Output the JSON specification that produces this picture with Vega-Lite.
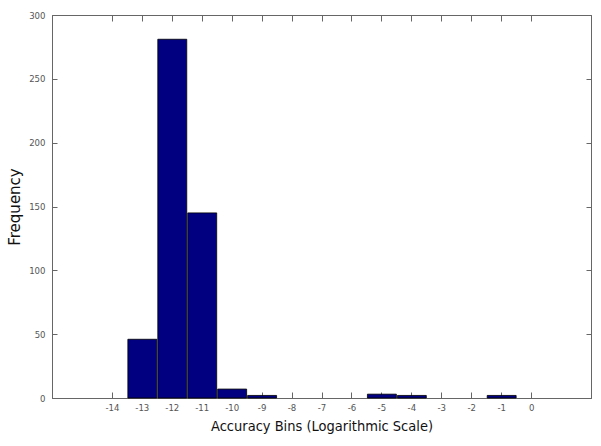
{
  "$schema": "https://vega.github.io/schema/vega-lite/v6.json",
  "width": 539,
  "height": 383,
  "autosize": {"type": "none"},
  "padding": {"left": 52, "top": 15, "right": 10, "bottom": 48},
  "background": "white",
  "config": {
    "view": {"stroke": "#666", "strokeWidth": 1},
    "axis": {"grid": false, "domainColor": "#666", "tickColor": "#666", "labelColor": "#555", "labelFont": "DejaVu Sans Condensed, Roboto, sans-serif", "labelFontSize": 9.5}
  },
  "data": {
    "values": [
      {"lo": -13.5, "hi": -12.5, "count": 46},
      {"lo": -12.5, "hi": -11.5, "count": 281},
      {"lo": -11.5, "hi": -10.5, "count": 145},
      {"lo": -10.5, "hi": -9.5, "count": 7},
      {"lo": -9.5, "hi": -8.5, "count": 2},
      {"lo": -5.5, "hi": -4.5, "count": 3},
      {"lo": -4.5, "hi": -3.5, "count": 2},
      {"lo": -1.5, "hi": -0.5, "count": 2}
    ]
  },
  "layer": [
    {
      "mark": {"type": "bar", "fill": "#000080", "stroke": "#000", "strokeWidth": 0.8},
      "encoding": {
        "x": {"field": "lo", "type": "quantitative", "bin": {"binned": true},
          "scale": {"domain": [-16, 2], "nice": false, "zero": false},
          "axis": {"orient": "bottom", "values": [-14,-13,-12,-11,-10,-9,-8,-7,-6,-5,-4,-3,-2,-1,0], "labelExpr": "replace(datum.label, '−', '-')", "tickSize": -6, "labelPadding": 10, "title": "Accuracy Bins (Logarithmic Scale)", "titleFont": "DejaVu Sans Condensed, Roboto, sans-serif", "titleFontSize": 14.5, "titleFontWeight": "normal", "titleColor": "#111", "titlePadding": 8}},
        "x2": {"field": "hi"},
        "y": {"field": "count", "type": "quantitative",
          "scale": {"domain": [0, 300], "nice": false},
          "axis": {"orient": "left", "values": [0,50,100,150,200,250,300], "tickSize": -5, "labelPadding": 12, "title": "Frequency", "titleFont": "DejaVu Sans", "titleFontSize": 15, "titleFontWeight": "normal", "titleColor": "#111", "titlePadding": 6}}
      }
    },
    {
      "mark": {"type": "bar", "opacity": 0},
      "encoding": {
        "x": {"field": "lo", "type": "quantitative", "bin": {"binned": true},
          "axis": {"orient": "top", "values": [-14,-13,-12,-11,-10,-9,-8,-7,-6,-5,-4,-3,-2,-1,0], "tickSize": -6, "labels": false, "title": null}},
        "x2": {"field": "hi"},
        "y": {"field": "count", "type": "quantitative",
          "axis": {"orient": "right", "values": [0,50,100,150,200,250,300], "tickSize": -5, "labels": false, "title": null}}
      }
    }
  ],
  "resolve": {"axis": {"x": "independent", "y": "independent"}}
}
